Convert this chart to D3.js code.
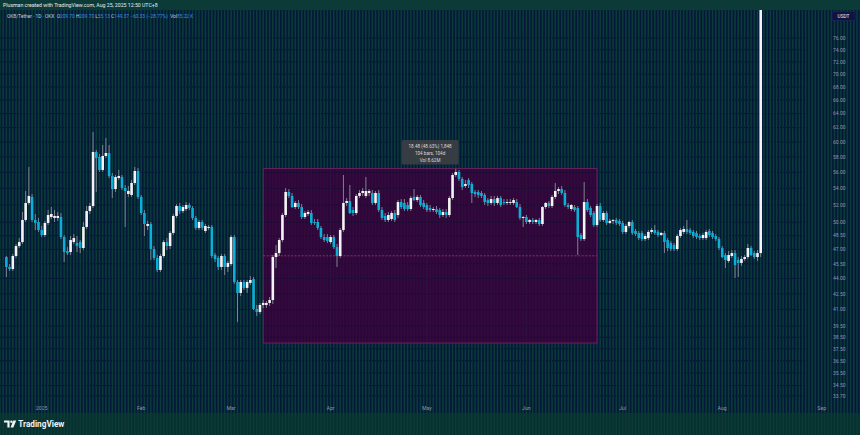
<!DOCTYPE html>
<html><head><meta charset="utf-8">
<script src="https://cdn.jsdelivr.net/npm/d3@7"></script>
<style>html,body{margin:0;padding:0;background:#0b3a37;overflow:hidden}svg{display:block}</style>
</head><body><svg id="c" width="860" height="435"></svg>
<script>
// ---------- DATA ----------
const startDate = "2024-12-21"; // first daily bar, one bar per day
const opens = [
46.20,45.17,44.96,46.31,47.37,47.80,50.26,52.24,52.96,50.26,
50.03,49.13,48.57,49.92,50.60,50.49,50.49,50.60,48.35,46.83,
46.73,47.80,47.70,47.80,47.16,49.47,51.29,51.88,58.66,58.00,
56.31,58.13,58.52,55.54,53.92,55.29,55.42,54.05,53.32,53.20,
54.67,56.18,52.96,51.06,49.58,49.80,47.05,46.10,44.86,46.31,
47.80,47.37,48.80,50.72,51.88,51.29,51.53,52.00,51.65,50.49,
49.36,50.03,49.02,49.36,49.47,46.41,46.10,45.17,46.31,45.17,
45.47,48.35,43.65,42.58,43.65,43.07,43.56,43.95,41.05,40.78,
41.43,41.43,41.62,41.90,46.20,46.62,48.02,50.83,53.56,53.08,
51.76,52.24,51.76,50.60,50.95,51.06,50.03,50.03,49.36,48.35,
48.35,47.80,48.35,47.26,46.31,49.13,52.24,52.47,51.41,51.06,
53.08,53.44,53.08,53.44,53.44,52.24,53.44,51.41,50.72,50.26,
50.37,51.06,50.83,52.35,52.24,52.00,51.53,52.96,52.59,52.96,
52.24,52.00,51.65,51.41,51.53,51.41,50.83,51.18,50.83,52.83,
55.67,56.05,55.17,54.30,55.04,54.54,53.56,53.56,53.44,53.20,
52.59,52.24,52.71,52.24,52.83,52.35,52.24,52.24,52.24,52.35,
51.76,50.49,50.60,50.03,50.26,50.03,50.26,49.80,51.76,52.24,
51.88,52.96,53.68,53.92,53.44,52.00,51.53,51.76,51.65,48.57,
48.13,52.35,51.65,51.06,49.69,51.88,50.26,51.06,49.92,50.15,
50.26,50.15,49.92,48.91,49.58,50.03,49.02,48.80,48.80,48.13,
48.24,48.91,49.13,48.91,48.57,48.80,48.02,47.70,47.48,47.05,
48.46,48.91,49.24,49.13,48.91,48.80,48.46,48.24,48.24,49.02,
48.80,48.46,48.13,47.16,46.41,45.79,46.31,46.62,45.89,45.58,
45.99,46.20,47.16,46.62,46.20,46.62];
const highs = [
46.31,45.47,46.52,47.59,48.24,51.18,53.68,56.69,53.32,50.95,
50.49,49.58,50.15,51.41,51.76,51.41,51.18,51.06,48.57,47.26,
48.46,48.68,48.46,48.02,50.03,51.88,52.24,61.38,58.92,58.39,
59.60,60.56,59.60,55.93,55.67,56.31,55.67,54.42,54.30,55.04,
56.69,56.57,53.20,51.41,50.15,50.03,47.37,46.41,46.52,48.02,
48.24,49.02,50.95,52.12,52.24,52.00,52.35,52.24,51.88,50.72,
50.26,50.26,49.80,49.69,49.69,46.62,46.31,46.52,46.52,45.79,
48.57,48.57,43.85,43.85,43.85,43.85,44.25,44.15,41.43,41.62,
41.90,41.81,42.19,46.41,47.48,48.24,51.06,54.05,53.92,53.44,
52.47,52.59,52.12,51.29,51.41,51.41,50.37,50.37,49.58,48.68,
48.68,48.57,48.57,47.59,49.36,55.67,52.83,54.42,51.76,53.32,
53.80,54.05,55.42,53.92,53.80,53.68,53.80,51.76,51.06,51.18,
51.29,51.41,52.59,52.71,52.71,52.35,53.08,53.92,53.20,53.20,
52.59,52.24,52.00,51.76,51.88,51.65,51.53,51.53,53.08,55.93,
56.44,56.31,55.42,55.04,55.29,54.79,53.80,53.80,53.68,53.44,
52.83,53.08,53.08,53.08,53.08,52.71,52.71,52.71,52.83,52.71,
52.12,50.72,50.83,50.37,50.49,50.37,50.49,51.88,52.35,52.47,
53.20,54.67,54.17,54.30,53.80,52.24,52.12,52.00,51.88,48.80,
54.79,52.71,51.88,51.29,52.12,52.24,51.29,51.29,50.37,50.37,
50.49,50.37,50.15,49.80,50.15,50.26,49.24,49.02,49.02,48.68,
49.13,49.36,49.69,49.13,48.91,49.02,48.24,47.91,47.70,48.68,
49.36,49.58,50.26,49.36,49.13,49.02,48.68,48.80,49.13,49.24,
49.02,48.68,48.35,47.37,46.62,46.83,46.94,46.94,46.20,46.31,
46.41,47.59,47.37,46.83,46.94,148.00];
const lows = [
44.15,44.76,44.76,46.10,47.16,47.59,50.03,52.00,50.03,49.13,
48.91,48.35,48.35,49.69,50.37,50.03,50.15,48.13,45.68,46.41,
46.41,47.59,46.73,46.62,46.94,49.24,50.95,51.65,53.56,56.05,
56.05,57.86,55.29,52.83,53.56,55.04,53.80,49.47,52.96,52.96,
54.42,52.71,50.83,48.46,49.13,45.89,45.89,44.66,44.66,46.10,
46.94,47.05,48.57,50.49,50.95,51.06,51.29,51.41,50.26,49.13,
49.13,49.13,48.80,49.13,46.10,45.68,44.86,44.86,44.35,44.66,
45.27,43.46,39.86,42.28,42.87,42.58,43.36,40.96,40.41,40.59,
41.15,41.15,41.34,41.52,45.06,46.31,47.80,50.60,52.83,51.65,
51.53,51.53,50.37,50.37,50.72,49.69,49.69,49.13,48.13,47.80,
47.70,47.59,47.05,45.17,46.10,48.91,51.88,50.95,50.72,50.83,
52.83,53.08,52.83,53.08,52.00,52.00,51.18,50.26,50.03,50.03,
50.15,50.03,50.49,51.53,51.29,51.29,51.29,52.47,52.35,51.76,
51.53,51.18,51.18,51.18,50.95,50.49,50.60,50.49,50.60,52.59,
55.42,54.92,53.80,54.05,54.05,52.24,52.96,52.83,52.83,52.00,
51.88,52.00,51.88,52.00,51.76,52.00,52.00,52.00,52.00,51.65,
50.26,49.47,49.80,49.80,49.80,49.80,49.58,49.58,51.53,51.65,
51.65,52.71,53.32,53.20,51.76,51.53,51.29,51.18,46.41,47.91,
47.91,51.18,50.60,49.47,49.47,50.03,50.03,49.69,49.80,49.80,
49.69,49.58,48.68,48.68,49.36,48.57,48.46,48.02,47.91,47.91,
48.02,48.68,48.57,48.35,48.46,46.62,46.83,46.83,46.83,46.83,
48.24,48.68,48.68,48.57,48.24,48.13,48.02,48.02,48.02,48.35,
48.13,47.91,46.94,46.10,45.06,45.58,46.10,44.05,44.15,45.27,
45.79,45.99,46.31,45.99,45.79,46.20];
const closes = [
45.17,44.96,46.31,47.37,47.80,50.26,52.24,53.08,50.26,49.92,
49.13,48.57,49.92,50.83,50.95,50.72,50.72,48.35,46.73,46.62,
48.02,48.24,47.37,47.16,49.47,51.29,51.88,58.66,57.86,56.31,
58.13,58.52,55.54,53.92,55.42,55.54,54.05,53.68,53.68,54.67,
56.18,52.96,51.06,49.80,49.80,47.05,46.10,44.86,46.31,47.80,
47.37,48.80,50.72,51.88,51.29,51.76,52.00,51.65,50.49,49.36,
50.03,49.36,49.58,49.47,46.31,45.99,45.17,46.31,45.17,45.58,
48.35,43.65,42.58,43.65,43.07,43.65,43.85,41.05,40.78,41.43,
41.62,41.62,41.90,46.20,46.62,48.02,50.83,53.56,53.08,51.76,
52.24,51.76,50.60,51.06,51.18,49.92,49.92,49.36,48.35,48.02,
47.91,48.35,47.26,46.31,49.13,52.24,52.47,51.06,51.06,53.08,
53.44,53.68,53.68,53.68,52.24,53.44,51.41,50.49,50.26,50.83,
51.06,50.26,52.35,51.76,51.53,51.53,52.83,52.59,52.96,52.00,
51.76,51.41,51.41,51.53,51.18,50.83,51.18,50.83,52.83,55.67,
56.05,55.17,54.17,54.54,54.42,53.44,53.32,53.20,53.08,52.35,
52.24,52.71,52.24,52.83,52.00,52.24,52.35,52.35,52.59,51.76,
50.49,50.60,50.03,50.26,50.03,50.26,49.80,51.76,52.24,51.88,
52.96,53.68,53.92,53.44,52.00,51.76,52.00,51.41,48.35,48.13,
52.35,51.41,50.83,49.69,51.88,50.26,51.06,49.92,50.15,50.26,
49.92,49.80,48.91,49.58,50.03,48.80,48.68,48.24,48.13,48.46,
48.91,49.13,48.80,48.57,48.80,47.80,47.16,47.05,47.05,48.46,
49.13,49.24,48.91,48.80,48.46,48.35,48.24,48.57,48.91,48.57,
48.35,48.13,47.16,46.20,45.89,46.41,46.62,45.37,45.58,45.99,
46.20,47.16,46.41,46.20,46.62,116.00];

const priceTicks = [76,74,72,70,68,66,64,62,60,58,56,54,52,50,48.5,47,45.5,44,42.5,41,39.5,38.5,37.5,36.5,35.5,34.5,33.7];
const monthTicks = [["2025-01-01","2025"],["2025-02-01","Feb"],["2025-03-01","Mar"],["2025-04-01","Apr"],
  ["2025-05-01","May"],["2025-06-01","Jun"],["2025-07-01","Jul"],["2025-08-01","Aug"],["2025-09-01","Sep"]];
const headerText = "Plusman created with TradingView.com, Aug 25, 2025 12:50 UTC+8";
const legendParts = [["OKB/Tether · 1D · OKX  ","#c9ccd6"],["O","#c9ccd6"],["209.70 ","#3f8ee0"],["H","#c9ccd6"],["209.70 ","#3f8ee0"],
  ["L","#c9ccd6"],["55.13 ","#3f8ee0"],["C","#c9ccd6"],["149.37 ","#3f8ee0"],["−60.33 (−28.77%)  ","#3f8ee0"],["Vol","#c9ccd6"],["85.22 K","#3f8ee0"]];
const rangeStart = "2025-03-11", rangeEnd = "2025-06-23";
const rangeLow = 38.00, rangeHigh = 56.48;
const rangeInfo = ["18.48 (48.63%) 1,848", "104 bars, 104d", "Vol 8.62M"];

// ---------- LAYOUT ----------
const W = 860, H = 435;
const paneTop = 10, paneBottom = 401, stripeBottom = 413, axisX = 806;
const C_BG = "#0b3a37", C_STRIPE = "#03183a", C_UP = "#f4f4f4", C_DN = "#0bb0d6", C_WICK = "#8a8e98";
const FONT = "Roboto, 'Noto Sans', 'DejaVu Sans', sans-serif";

const svg = d3.select("#c");
const parse = d3.utcParse("%Y-%m-%d");
const x = d3.scaleUtc().domain([parse("2025-01-01"), parse("2025-09-01")]).range([41.7, 821.7]);
const y = d3.scaleLog().domain([52*Math.exp(-196/440), 52*Math.exp(195/440)]).range([paneBottom, paneTop]);

const t0 = parse(startDate);
const bars = closes.map((c, i) => ({d: d3.utcDay.offset(t0, i), o: opens[i], h: highs[i], l: lows[i], c}));

svg.append("rect").attr("width", W).attr("height", H).attr("fill", C_BG);

// vertical stripes (daily grid)
const days = d3.utcDay.range(parse("2024-12-01"), parse("2025-10-01"));
const gS = svg.append("g");
days.forEach(d => {
  const xx = x(d) + 1.6;
  if (xx < -2 || xx > W + 2) return;
  gS.append("line").attr("x1", xx).attr("x2", xx).attr("y1", paneTop).attr("y2", stripeBottom)
    .attr("stroke", C_STRIPE).attr("stroke-width", 1.6);
  gS.append("line").attr("x1", xx).attr("x2", xx).attr("y1", stripeBottom).attr("y2", H)
    .attr("stroke", "#07302e").attr("stroke-width", 1.6);
});

// range box fill
const bx0 = x(parse(rangeStart)), bx1 = x(parse(rangeEnd));
const by0 = y(rangeHigh), by1 = y(rangeLow);
svg.append("rect").attr("x", bx0).attr("y", by0).attr("width", bx1 - bx0).attr("height", by1 - by0)
  .attr("fill", "#3c003c").attr("fill-opacity", 0.78);

// horizontal grid
priceTicks.forEach(p => {
  svg.append("line").attr("x1", 0).attr("x2", axisX).attr("y1", y(p)).attr("y2", y(p))
    .attr("stroke", "#021330").attr("stroke-width", 1).attr("stroke-dasharray", "1.2,1.8");
});
// month grid
monthTicks.forEach(([d]) => {
  const xx = x(parse(d));
  svg.append("line").attr("x1", xx).attr("x2", xx).attr("y1", paneTop).attr("y2", paneBottom)
    .attr("stroke", "#2b3348").attr("stroke-opacity", 0.55).attr("stroke-width", 0.8).attr("stroke-dasharray", "1.5,1.5");
});

// range box border + midline
svg.append("rect").attr("x", bx0).attr("y", by0).attr("width", bx1 - bx0).attr("height", by1 - by0)
  .attr("fill", "none").attr("stroke", "#7a2468").attr("stroke-width", 0.8);
svg.append("line").attr("x1", bx0).attr("x2", bx1).attr("y1", (by0 + by1) / 2).attr("y2", (by0 + by1) / 2)
  .attr("stroke", "#a8347f").attr("stroke-width", 0.8).attr("stroke-dasharray", "2,1.5");

// candles
svg.append("clipPath").attr("id", "pane").append("rect").attr("x", 0).attr("y", paneTop).attr("width", axisX).attr("height", paneBottom - paneTop);
const gC = svg.append("g").attr("clip-path", "url(#pane)");
gC.selectAll("line.w").data(bars).join("line").attr("class", "w")
  .attr("x1", d => x(d.d)).attr("x2", d => x(d.d)).attr("y1", d => y(d.h)).attr("y2", d => y(d.l))
  .attr("stroke", C_WICK).attr("stroke-width", 0.9);
gC.selectAll("rect.b").data(bars).join("rect").attr("class", "b")
  .attr("x", d => x(d.d) - 1.3).attr("width", 2.6)
  .attr("y", d => y(Math.max(d.o, d.c)))
  .attr("height", d => Math.max(0.9, Math.abs(y(d.o) - y(d.c))))
  .attr("fill", d => d.c >= d.o ? C_UP : C_DN);

// range tooltip
const tcx = (bx0 + bx1) / 2;
svg.append("rect").attr("x", tcx - 28.5).attr("y", 140).attr("width", 57).attr("height", 24.5).attr("rx", 1.5)
  .attr("fill", "#3b3f44").attr("fill-opacity", 0.92);
rangeInfo.forEach((t, i) => {
  svg.append("text").attr("x", tcx).attr("y", 147.5 + i * 7).attr("text-anchor", "middle")
    .attr("font-family", FONT).attr("font-size", 4.6).attr("fill", "#d8dade").text(t);
});

// right axis labels
priceTicks.forEach(p => {
  svg.append("text").attr("x", 833).attr("y", y(p) + 1.8).attr("font-family", FONT).attr("font-size", 5)
    .attr("fill", "#8d93ab").text(p.toFixed(2));
});
// USDT box
svg.append("rect").attr("x", 832).attr("y", 11.5).attr("width", 23).attr("height", 9).attr("fill", "#0d1444").attr("stroke", "#1d2a66").attr("stroke-width", 0.5);
svg.append("text").attr("x", 843.5).attr("y", 17.8).attr("text-anchor", "middle").attr("font-family", FONT)
  .attr("font-size", 4.8).attr("fill", "#e6e8ef").text("USDT");

// time axis labels
monthTicks.forEach(([d, lab]) => {
  svg.append("text").attr("x", x(parse(d))).attr("y", 409.5).attr("text-anchor", "middle").attr("font-family", FONT)
    .attr("font-size", 5.2).attr("fill", "#8d93ab").text(lab);
});

// header
svg.append("text").attr("x", 3).attr("y", 6.8).attr("font-family", FONT).attr("font-size", 5.2).attr("fill", "#e8eaee").text(headerText);
const leg = svg.append("text").attr("x", 7).attr("y", 17.8).attr("font-family", FONT).attr("font-size", 4.8).attr("xml:space", "preserve");
legendParts.forEach(([t, c]) => leg.append("tspan").attr("fill", c).text(t));

// TradingView logo
const gL = svg.append("g").attr("fill", "#f2f3f5");
gL.append("path").attr("d", "M4,420.5 H9.6 V427.5 H7.4 V422.6 H4 Z");
gL.append("circle").attr("cx", 11.4).attr("cy", 421.7).attr("r", 1.2);
gL.append("path").attr("d", "M13.2,420.5 H16.2 L13.4,427.5 H10.6 Z");
svg.append("text").attr("x", 18.3).attr("y", 427.2).attr("font-family", FONT).attr("font-weight", 700)
  .attr("font-size", 8.2).attr("fill", "#f2f3f5").text("TradingView");
</script></body></html>
